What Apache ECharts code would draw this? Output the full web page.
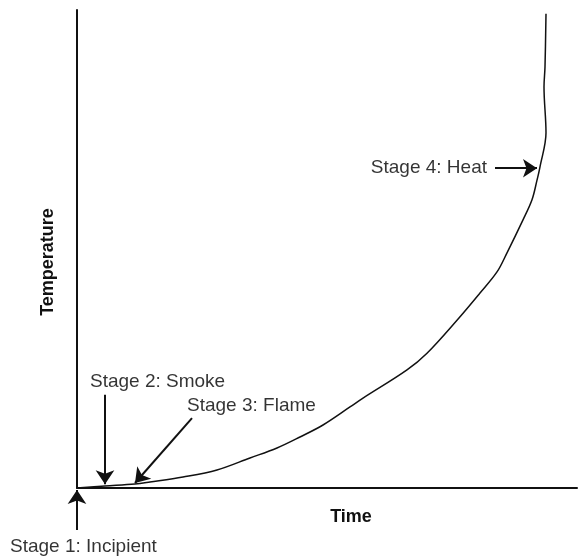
<!DOCTYPE html>
<html>
<head>
<meta charset="utf-8">
<script src="https://cdn.jsdelivr.net/npm/echarts@6/dist/echarts.min.js"></script>
<style>html,body{margin:0;padding:0;background:#fff}#c{width:578px;height:560px}</style>
</head>
<body>
<div id="c"></div>
<script>
// Curve: [time, temperature] in arbitrary 0-100 units
var curveTime = [0, 5.6, 11.6, 14.6, 21.2, 28, 34.6, 40, 44.6, 49.2, 54.6, 57.2, 66, 70, 76, 80.6, 84, 86, 89.2, 91, 92, 92.6, 93.8, 93.4, 93.6, 93.8];
var curveTemp = [0, 0.42, 0.84, 1.26, 2.3, 3.77, 6.28, 8.37, 10.67, 13.18, 16.95, 18.8, 24.7, 28.2, 35.1, 40.8, 45.2, 49.2, 56.1, 60.3, 64.4, 67.2, 74.3, 83.9, 88.1, 99.2];

// Annotation labels
var stageNames = ['Stage 1: Incipient', 'Stage 2: Smoke', 'Stage 3: Flame', 'Stage 4: Heat'];
var labelTime = [-13.4, 2.6, 22, 82];
var labelTemp = [-12.3, 22.3, 17.1, 66.9];
var labelAlign = ['left', 'left', 'left', 'right'];

// Arrows: from -> to
var arrowFrom = [[0, -8.8], [5.6, 19.5], [23, 14.6], [83.6, 66.9]];
var arrowTo = [[0, -0.4], [5.6, 0.8], [11.6, 1.05], [92, 66.9]];

var FONT = '"Liberation Sans", Arial, sans-serif';
var INK = '#111';

var curveData = curveTime.map(function (t, i) { return [t, curveTemp[i]]; });
var labelData = stageNames.map(function (n, i) {
  return {
    name: n,
    value: [labelTime[i], labelTemp[i]],
    label: { align: labelAlign[i] }
  };
});
var arrowData = arrowFrom.map(function (f, i) { return { coords: [f, arrowTo[i]] }; });

var chart = echarts.init(document.getElementById('c'));
chart.setOption({
  backgroundColor: '#fff',
  animation: false,
  grid: { left: 77, right: 1, top: 10, bottom: 72 },
  xAxis: {
    type: 'value', min: 0, max: 100,
    name: 'Time', nameLocation: 'middle', nameGap: 20,
    nameTextStyle: { fontFamily: FONT, fontWeight: 'bold', fontSize: 18, color: INK, padding: [0, 0, 0, 48] },
    axisLine: { lineStyle: { color: INK, width: 2 } },
    axisTick: { show: false }, axisLabel: { show: false }, splitLine: { show: false }
  },
  yAxis: {
    type: 'value', min: 0, max: 100,
    name: 'Temperature', nameLocation: 'middle', nameGap: 20,
    nameTextStyle: { fontFamily: FONT, fontWeight: 'bold', fontSize: 18, color: INK, padding: [0, 26, 0, 0] },
    axisLine: { lineStyle: { color: INK, width: 2 } },
    axisTick: { show: false }, axisLabel: { show: false }, splitLine: { show: false }
  },
  series: [
    {
      type: 'line', data: curveData, smooth: 0.35, symbol: 'none',
      lineStyle: { color: INK, width: 1.5 }, clip: false
    },
    {
      type: 'lines', coordinateSystem: 'cartesian2d', data: arrowData,
      symbol: ['none', 'arrow'], symbolSize: [9, 14], clip: false,
      lineStyle: { color: INK, width: 2, opacity: 1 },
      silent: true
    },
    {
      type: 'scatter', data: labelData, symbolSize: 0, clip: false, silent: true,
      label: {
        show: true, position: 'inside', verticalAlign: 'middle',
        formatter: '{b}', fontFamily: FONT, fontSize: 19, color: '#000'
      }
    }
  ]
});
</script>
</body>
</html>
